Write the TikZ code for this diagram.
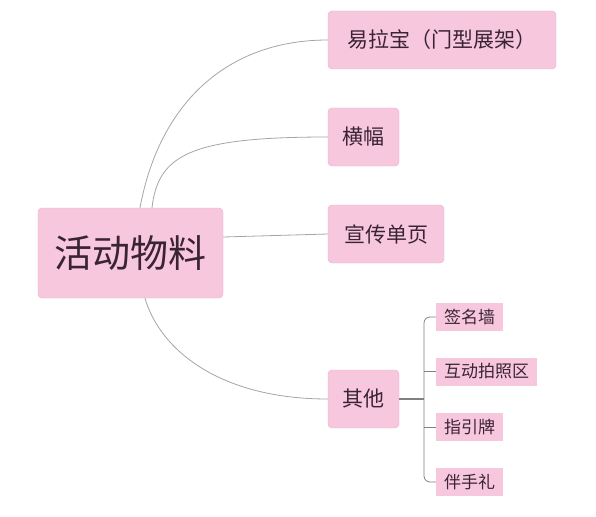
\documentclass[tikz,border=0pt]{standalone}
\usepackage{fontspec}
\setmainfont{Noto Sans CJK SC}
\usepackage{xcolor}
\usepackage{tikz}
\usetikzlibrary{positioning,calc}
\definecolor{blush}{RGB}{247,199,221}
\definecolor{blushline}{RGB}{232,176,202}
\definecolor{plum}{RGB}{58,36,52}
\definecolor{wire}{RGB}{165,165,165}

\begin{document}
\begin{tikzpicture}[x=1pt,y=-1pt,every node/.style={align=center,text=plum,inner sep=0pt},
  topic/.style={draw=blushline,fill=blush,rounded corners=4pt,minimum height=58pt,font=\fontsize{21}{24}\selectfont},
  leaf/.style={fill=blush,minimum height=28pt,font=\fontsize{17}{20}\selectfont},
  link/.style={draw=wire,line width=0.8pt}]
\useasboundingbox (0,0) rectangle (596,516);
\node[draw=blushline,fill=blush,rounded corners=4pt,minimum width=185pt,minimum height=90pt,font=\fontsize{38}{42}\selectfont] (huodong) at (130.5,253) {活动物料};
\node[topic,minimum width=228pt] (yila) at (442,40) {易拉宝（门型展架）};
\node[topic,minimum width=71pt] (hengfu) at (363.5,137) {横幅};
\node[topic,minimum width=116pt] (xuanchuan) at (386,234) {宣传单页};
\node[topic,minimum width=71pt] (qita) at (363.5,399) {其他};
\node[leaf,minimum width=67pt] (qianming) at (469.5,317) {签名墙};
\node[leaf,minimum width=101pt] (hudong) at (486.5,371.5) {互动拍照区};
\node[leaf,minimum width=67pt] (zhiyin) at (469.5,427) {指引牌};
\node[leaf,minimum width=67pt] (banshou) at (469.5,482) {伴手礼};
\coordinate (fork) at (424,399);
\draw[link] ([xshift=9.5pt]huodong.north) .. controls (160,100) and (230,40) .. (yila.west);
\draw[link] ([xshift=21.5pt]huodong.north) .. controls (158,155) and (190,137) .. (hengfu.west);
\draw[link] ([yshift=16pt]huodong.east) -- (xuanchuan.west);
\draw[link] ([xshift=14.5pt]huodong.south) .. controls (160,350) and (220,399) .. (qita.west);
% bracket for the leaves of qita
\draw[link,draw=gray,line width=1.3pt] (qita.east) -- (fork);
\draw[link,draw=gray,rounded corners=6pt] (qianming.west) -| (fork) |- (banshou.west);
\draw[link,draw=gray] (hudong.west) -- (hudong.west -| fork);
\draw[link,draw=gray] (zhiyin.west) -- (zhiyin.west -| fork);
\end{tikzpicture}
\end{document}
